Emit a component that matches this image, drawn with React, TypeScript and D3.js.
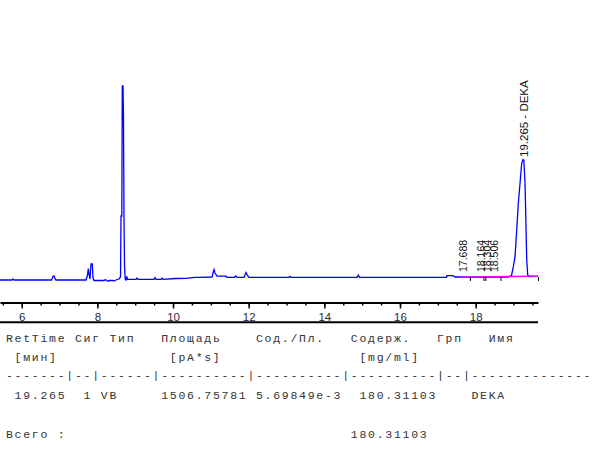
import * as d3 from 'd3';
import React, { useEffect, useRef } from 'react';

// FID trace: time [min] / signal
const traceTime = [
  5.426, 5.744, 5.77, 5.796, 6.788, 6.827, 6.854, 6.893, 6.907, 7.7, 7.739, 7.76, 7.787, 7.805,
  7.832, 7.866, 7.885, 7.911, 8.176, 8.215, 8.242, 8.281, 8.334, 8.413, 8.44, 8.49, 8.572, 8.612,
  8.625, 8.646, 8.659, 8.678, 8.691, 8.704, 8.717, 8.736, 8.757, 8.776, 8.797, 9.021, 9.048, 9.074,
  9.497, 9.524, 9.55, 9.682, 9.709, 9.735, 10.079, 10.343, 10.581, 10.713, 11.031, 11.057, 11.084,
  11.11, 11.163, 11.401, 11.427, 11.625, 11.657, 11.691, 11.876, 11.903, 11.929, 11.969, 12.009,
  13.066, 13.093, 13.119, 14.864, 14.898, 14.93, 17.23, 17.243, 17.402, 17.455, 17.587, 18.856,
  18.948, 18.996, 19.041, 19.085, 19.128, 19.173, 19.217, 19.252, 19.273, 19.305, 19.331, 19.35,
  19.376, 19.41, 19.648,
];
const traceSignal = [
  0, 0, 1, 0, 0, 3.5, 4, 0.5, 0, 0, 5, 11.5, 4, 1,
  16, 16, 2, -0.5, -0.5, 0.5, -0.5, -1, -0.5, -0.5, -1, 0, 1, 3,
  64, 64, 194, 194, 159, 64, 15, 1, 0, 3.5, 0.7, 0.7, 2, 0.7,
  0.7, 2.5, 0.7, 0.7, 2, 0.7, 1.5, 1.7, 2.7, 2.7, 3, 7, 10.5,
  7, 4, 3.8, 2.7, 2.7, 4, 2.7, 2.7, 5, 7.5, 4.5, 2.7,
  2.7, 3.7, 2.7, 2.7, 5, 2.7, 2.7, 4.3, 4.3, 3, 3, 3,
  4.5, 13.3, 23.3, 50, 77, 96.7, 116.7, 120.5, 120, 97, 53.3, 20,
  5, 3.5, 3.7,
];

// integration baseline (magenta)
const baseTime = [17.587, 19.648];
const baseSignal = [2.8, 3.9];

// integration event marks
const eventTimes = [17.86, 18.22, 18.27, 18.67, 19.66];

// peak labels
const peakTimes = [17.688, 18.164, 18.304, 18.506];
const peakLabels = ['17.688', '18.164', '18.304', '18.506'];
const mainPeakTime = 19.265;
const mainPeakLabel = '19.265 - DEKA';

const majorTicks = [6, 8, 10, 12, 14, 16, 18];
const minorTicks = [5.5, 6, 6.5, 7, 7.5, 8, 8.5, 9, 9.5, 10, 10.5, 11, 11.5, 12, 12.5, 13, 13.5,
  14, 14.5, 15, 15.5, 16, 16.5, 17, 17.5, 18, 18.5, 19, 19.5];

// report table (column index, text)
const tableRows: [number, string][][] = [
  [[0, 'RetTime'], [8, 'Сиг'], [12, 'Тип'], [18, 'Площадь'], [29, 'Сод./Пл.'], [40, 'Содерж.'], [50, 'Грп'], [56, 'Имя']],
  [[1, '[мин]'], [19, '[pA*s]'], [41, '[mg/ml]']],
  [[0, '-------|--|------|----------|----------|----------|--|--------------']],
  [[1, '19.265'], [9, '1 VB'], [18, '1506.75781'], [29, '5.69849e-3'], [41, '180.31103'], [54, 'DEKA']],
  [[0, 'Всего :'], [40, '180.31103']],
];
const rowBaselines = [342.3, 361, 378.6, 399, 438.3];

const App: React.FC = () => {
  const ref = useRef<SVGSVGElement | null>(null);

  useEffect(() => {
    const svg = d3.select(ref.current);
    svg.selectAll('*').remove();

    const x = d3.scaleLinear().domain([5.426, 19.648]).range([0, 538]);
    const y = d3.scaleLinear().domain([0, 200]).range([280, 80]);

    const axisY = 302.5;
    const g = svg.append('g');

    // minor ticks
    g.append('g')
      .attr('transform', `translate(0,${axisY})`)
      .call(d3.axisBottom(x).tickValues(minorTicks).tickSize(3).tickFormat(() => ''))
      .call(s => s.select('.domain').remove())
      .call(s => s.selectAll('line').attr('stroke', '#000').attr('stroke-width', 1.5));

    // major ticks + labels
    g.append('g')
      .attr('transform', `translate(0,${axisY})`)
      .call(d3.axisBottom(x).tickValues(majorTicks).tickSize(6).tickPadding(4).tickSizeOuter(0).tickFormat(d3.format('d')))
      .call(s => s.select('.domain').attr('stroke', '#000').attr('stroke-width', 2))
      .call(s => s.selectAll('line').attr('stroke', '#000').attr('stroke-width', 1.5))
      .call(s => s.selectAll('text')
        .attr('fill', '#2a2a40')
        .style('font-family', '"Liberation Sans", Arial, sans-serif')
        .style('font-size', '11.5px'));

    // bottom rule
    g.append('line')
      .attr('x1', x.range()[0]).attr('x2', x.range()[1])
      .attr('y1', 322.3).attr('y2', 322.3)
      .attr('stroke', '#000').attr('stroke-width', 2);

    const line = d3.line<number>()
      .x(i => x(traceTime[i]))
      .y(i => y(traceSignal[i]));

    g.append('path')
      .attr('d', line(d3.range(traceTime.length)))
      .attr('fill', 'none')
      .attr('stroke', '#0000ff')
      .attr('stroke-width', 1.3);

    const baseLine = d3.line<number>()
      .x(i => x(baseTime[i]))
      .y(i => y(baseSignal[i]));

    g.append('path')
      .attr('d', baseLine([0, 1]))
      .attr('fill', 'none')
      .attr('stroke', '#ff00ff')
      .attr('stroke-width', 1.3);

    g.selectAll('line.ev')
      .data(eventTimes)
      .enter()
      .append('line')
      .attr('class', 'ev')
      .attr('x1', d => x(d)).attr('x2', d => x(d))
      .attr('y1', y(3)).attr('y2', y(3) + 4)
      .attr('stroke', '#000')
      .attr('stroke-width', 1);

    g.selectAll('text.pk')
      .data(peakTimes)
      .enter()
      .append('text')
      .attr('class', 'pk')
      .attr('transform', d => `translate(${x(d) + 3.5},272) rotate(-90)`)
      .attr('fill', '#111')
      .style('font-family', '"Liberation Sans", Arial, sans-serif')
      .style('font-size', '10.5px')
      .text((_d, i) => peakLabels[i]);

    g.append('text')
      .attr('transform', `translate(${x(mainPeakTime) + 4},157) rotate(-90)`)
      .attr('fill', '#111')
      .style('font-family', '"Liberation Sans", Arial, sans-serif')
      .style('font-size', '11.5px')
      .text(mainPeakLabel);

    // report table
    const charW = 8.62;
    tableRows.forEach((row, r) => {
      row.forEach(([col, txt]) => {
        g.append('text')
          .attr('x', 6 + col * charW)
          .attr('y', rowBaselines[r])
          .attr('fill', '#333')
          .style('font-family', '"Liberation Mono", "Courier New", monospace')
          .style('font-size', '11.5px')
          .style('letter-spacing', `${charW - 11.5 * 0.6}px`)
          .text(txt);
      });
    });
  }, []);

  return (
    <svg ref={ref} width={603} height={454}
      style={{ position: 'absolute', left: 0, top: 0, background: '#fff' }} />
  );
};

export default App;
